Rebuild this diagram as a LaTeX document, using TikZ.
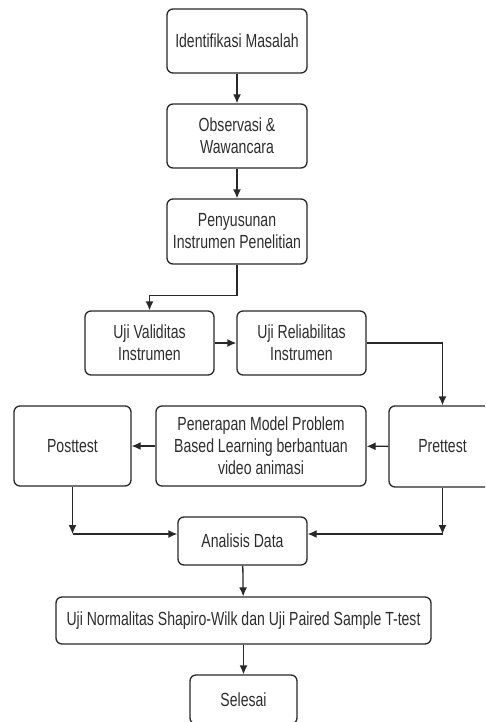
\documentclass[tikz,border=0pt]{standalone}
\usepackage{fontspec}
\setmainfont[FakeStretch=0.74]{Liberation Sans}
\usepackage{tikz}
\usetikzlibrary{arrows.meta}
\definecolor{myline}{RGB}{40, 40, 40}
\definecolor{mytext}{RGB}{45, 45, 45}
\tikzset{
  box/.style={draw=myline, line width=1.3pt, rounded corners=6pt, align=center,
    text=mytext, font=\fontsize{19}{22}\selectfont, inner sep=0pt},
  arr/.style={-{Latex[length=9pt,width=8pt]}, line width=1.3pt, draw=myline}
}

\begin{document}
\begin{tikzpicture}[x=1pt, y=-1pt]
          \useasboundingbox (0,0) rectangle (485,722);
          \clip (0,0) rectangle (485,722);
          \node[box, minimum width=140pt, minimum height=64pt] (idm) at (237,41) {Identifikasi Masalah};
          \node[box, minimum width=140pt, minimum height=64pt] (obs) at (237,136) {Observasi \&\\Wawancara};
          \node[box, minimum width=140pt, minimum height=65pt] (pen) at (237,231.5) {Penyusunan\\Instrumen Penelitian};
          \node[box, minimum width=129pt, minimum height=64pt] (val) at (149.5,343) {Uji Validitas\\Instrumen};
          \node[box, minimum width=129pt, minimum height=64pt] (rel) at (301.5,343) {Uji Reliabilitas\\Instrumen};
          \node[box, minimum width=107pt, minimum height=81pt] (pre) at (442.5,446.5) {Prettest};
          \node[box, minimum width=210pt, minimum height=80pt] (pbl) at (261,446) {Penerapan Model Problem\\Based Learning berbantuan\\video animasi};
          \node[box, minimum width=117pt, minimum height=80pt] (post) at (72.5,446) {Posttest};
          \node[box, minimum width=129pt, minimum height=48pt] (ana) at (242.5,541) {Analisis Data};
          \node[box, minimum width=375pt, minimum height=47pt] (uji) at (243.5,620.5) {Uji Normalitas Shapiro-Wilk dan Uji Paired Sample T-test};
          \node[box, minimum width=107pt, minimum height=49pt] (sel) at (243.5,699.5) {Selesai};
          \coordinate (postend) at (72.5,534);
          \coordinate (preend) at (442.5,534);

          \draw[arr] (idm) -- (obs);
          \draw[arr] (obs) -- (pen);
          \draw[arr] (pen.south) -- ++(0,31) -| (val.north);
          \draw[arr] (val) -- (rel);
          \draw[arr] (rel.east) -| (pre.north);
          \draw[arr] (pre) -- (pbl);
          \draw[arr] (pbl) -- (post);
          \draw[arr] (post.south) -- (postend);
          \draw[arr] (pre.south) -- (preend);
          \draw[arr] (postend) -- (ana.west |- postend);
          \draw[arr] (preend) -- (ana.east |- preend);
          \draw[arr] (ana) -- (uji);
          \draw[arr] (uji) -- (sel);
        \end{tikzpicture}
\end{document}
